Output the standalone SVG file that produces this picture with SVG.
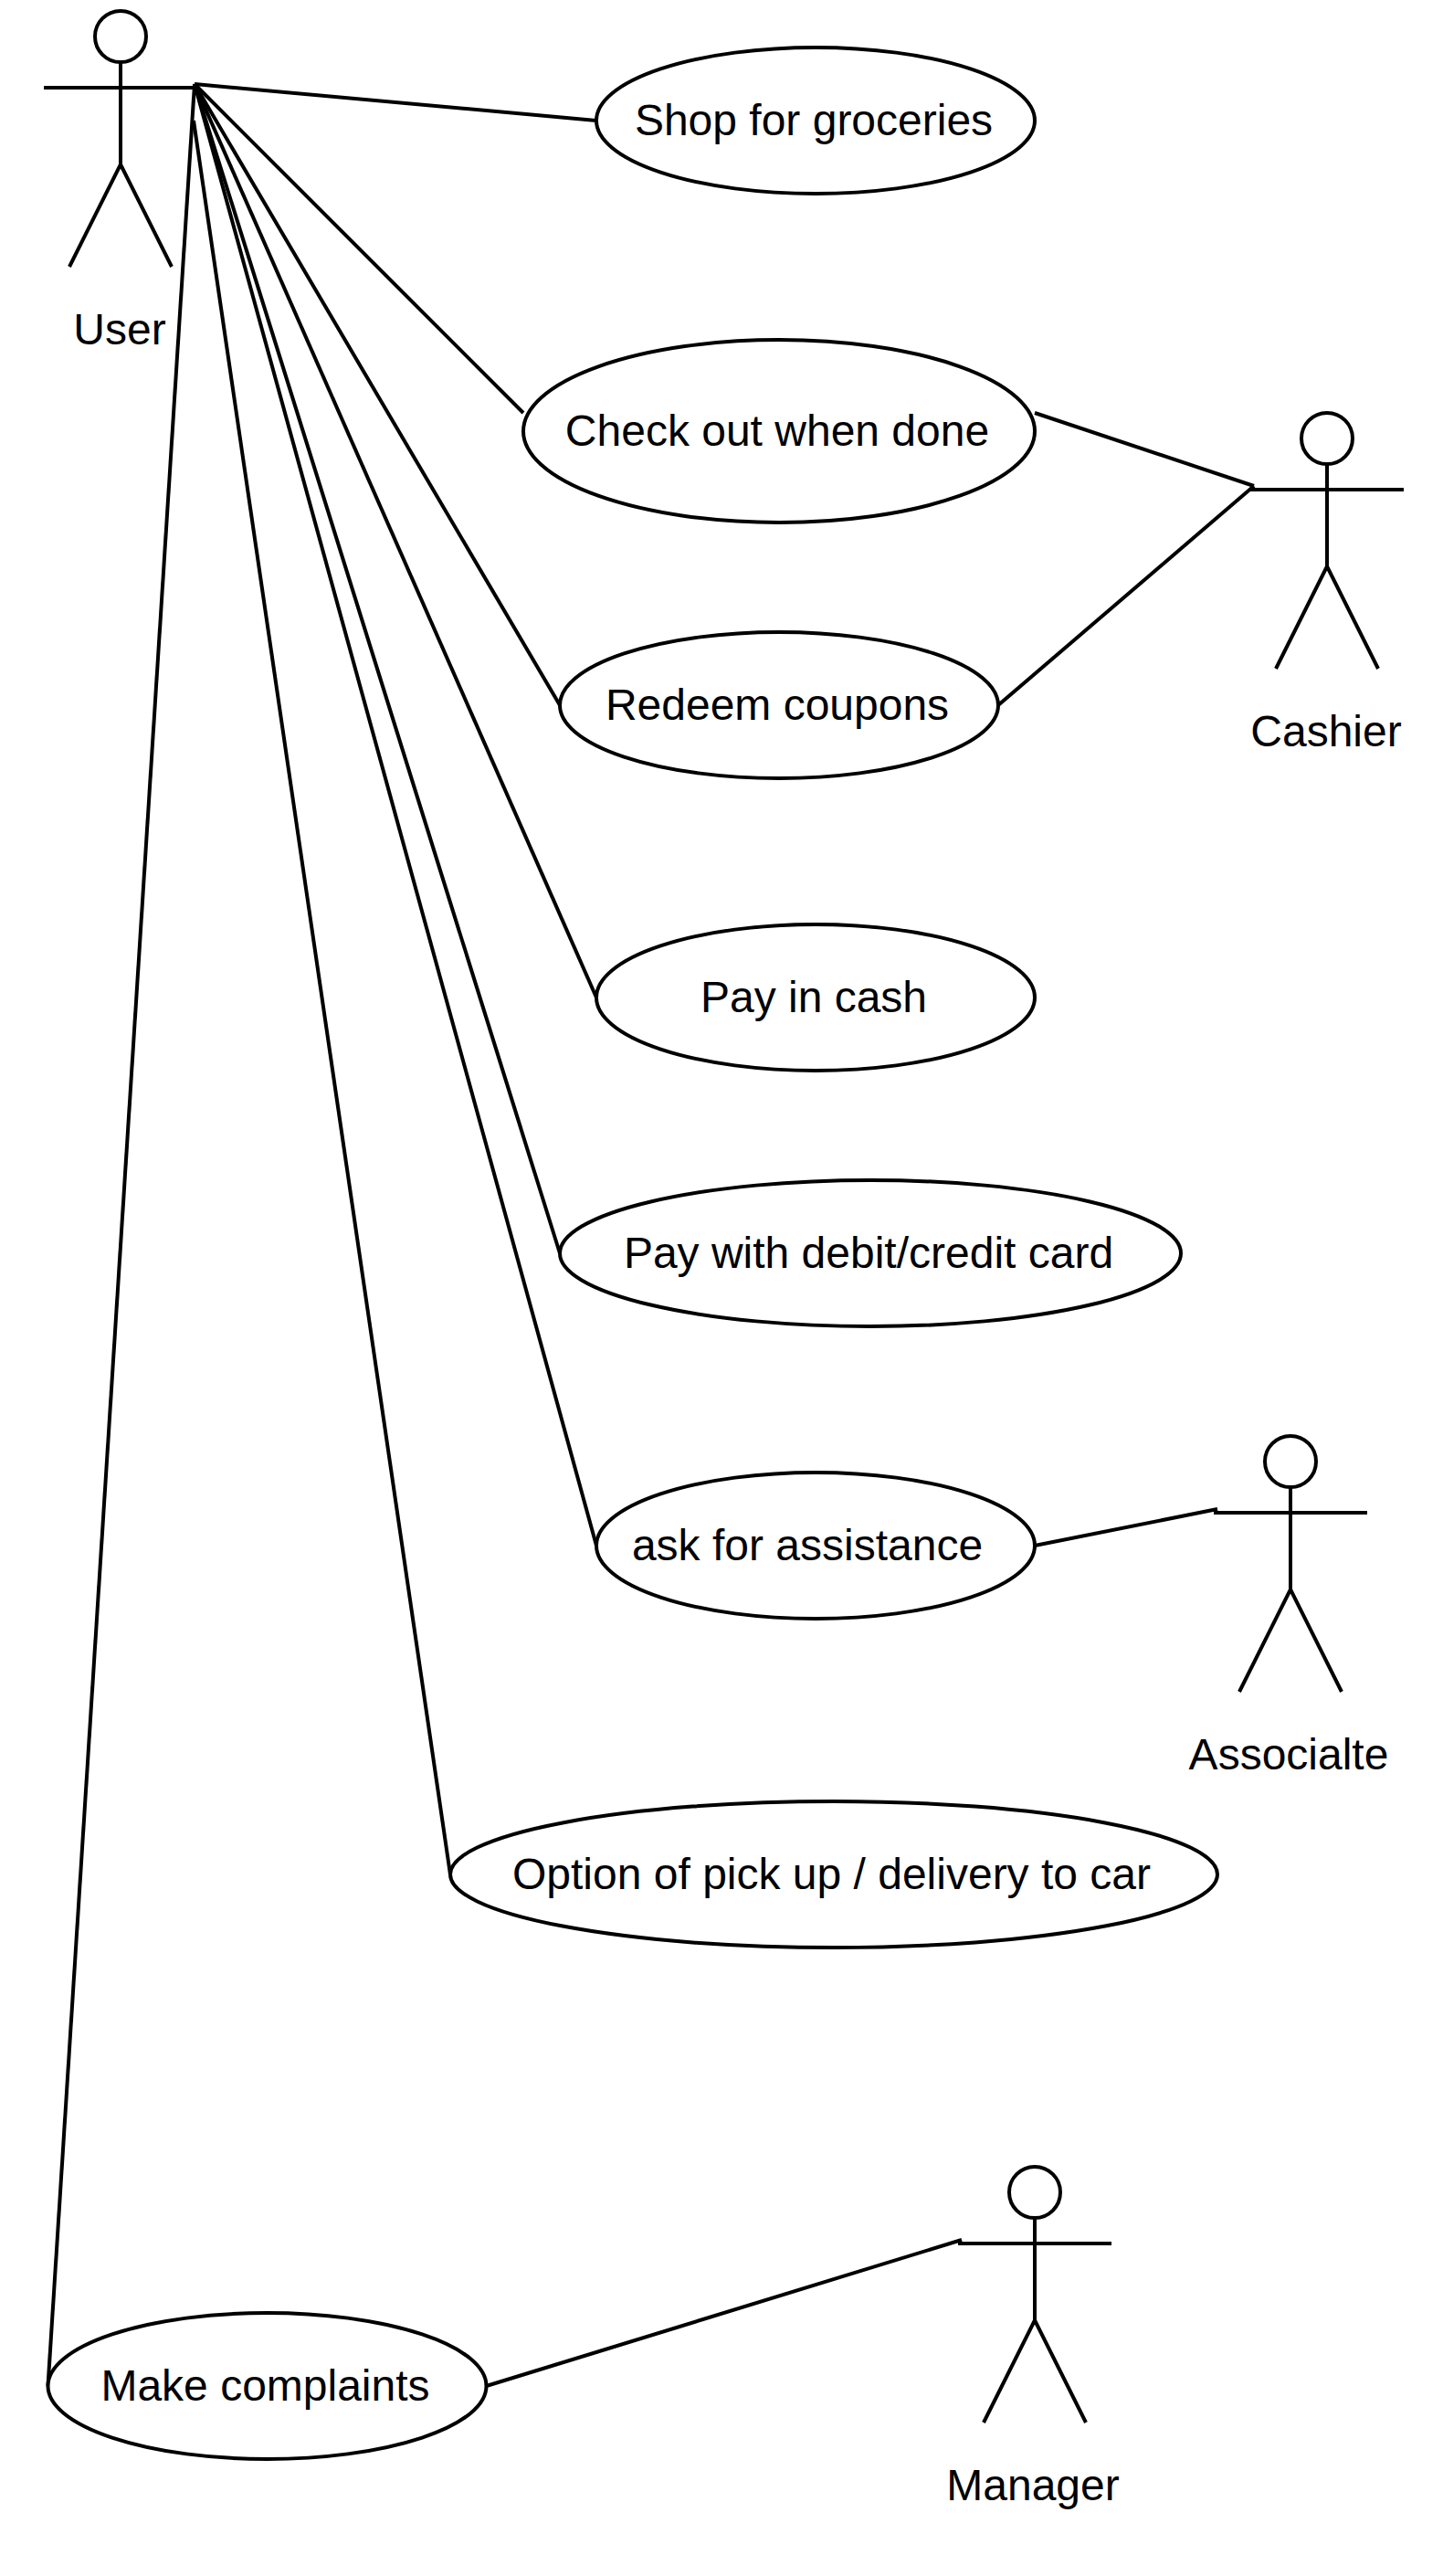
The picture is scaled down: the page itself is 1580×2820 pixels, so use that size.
<svg xmlns="http://www.w3.org/2000/svg" width="1580" height="2820" viewBox="0 0 1580 2820">
<style>
text{font-family:"Liberation Sans",Arial,sans-serif;font-size:48px;fill:#000;text-anchor:middle}
ellipse,circle{fill:#fff;stroke:#000;stroke-width:4}
path,line{fill:none;stroke:#000;stroke-width:4}
</style>
<defs>
<g id="stick">
<circle cx="0" cy="0" r="28"/>
<path d="M0 28V140M-84 56H84M-56 252L0 140L56 252"/>
</g>
</defs>
<rect width="1580" height="2820" fill="#fff"/>
<g id="connectors">
<line x1="213" y1="92" x2="653" y2="132"/>
<line x1="213" y1="92" x2="573" y2="452"/>
<line x1="213" y1="92" x2="613" y2="772"/>
<line x1="213" y1="92" x2="653" y2="1092"/>
<line x1="213" y1="92" x2="613" y2="1372"/>
<line x1="213" y1="92" x2="653" y2="1692"/>
<line x1="212" y1="132" x2="493" y2="2052"/>
<line x1="213" y1="92" x2="52.5" y2="2612"/>
<line x1="1133" y1="452" x2="1373" y2="532"/>
<line x1="1093" y1="772" x2="1373" y2="532"/>
<line x1="1133" y1="1692" x2="1333" y2="1652"/>
<line x1="532.5" y1="2612" x2="1053" y2="2452"/>
</g>
<g id="actor-user"><use href="#stick" x="132" y="40"/><text x="131" y="377">User</text></g>
<g id="actor-cashier"><use href="#stick" x="1453" y="480"/><text x="1452" y="817">Cashier</text></g>
<g id="actor-associalte"><use href="#stick" x="1413" y="1600"/><text x="1411" y="1937">Associalte</text></g>
<g id="actor-manager"><use href="#stick" x="1133" y="2400"/><text x="1131" y="2737">Manager</text></g>
<g id="uc-shop"><ellipse cx="893" cy="132" rx="240" ry="80"/><text x="891" y="148">Shop for groceries</text></g>
<g id="uc-checkout"><ellipse cx="853" cy="472" rx="280" ry="100"/><text x="851" y="488">Check out when done</text></g>
<g id="uc-redeem"><ellipse cx="853" cy="772" rx="240" ry="80"/><text x="851" y="788">Redeem coupons</text></g>
<g id="uc-cash"><ellipse cx="893" cy="1092" rx="240" ry="80"/><text x="891" y="1108">Pay in cash</text></g>
<g id="uc-card"><ellipse cx="953" cy="1372" rx="340" ry="80"/><text x="951" y="1388">Pay with debit/credit card</text></g>
<g id="uc-assist"><ellipse cx="893" cy="1692" rx="240" ry="80"/><text x="884" y="1708">ask for assistance</text></g>
<g id="uc-pickup"><ellipse cx="913" cy="2052" rx="420" ry="80"/><text x="910.5" y="2068">Option of pick up / delivery to car</text></g>
<g id="uc-complaints"><ellipse cx="292.5" cy="2612" rx="240" ry="80"/><text x="290.5" y="2628">Make complaints</text></g>
</svg>
